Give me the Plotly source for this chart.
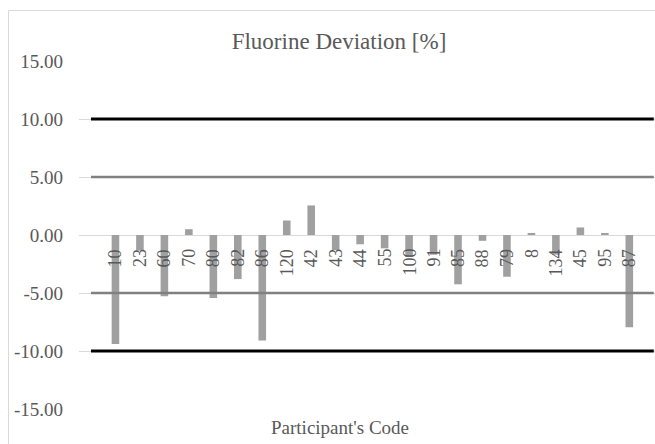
import plotly.graph_objects as go

# Participant codes in reporting order and their fluorine deviation (%)
codes = ["10", "23", "60", "70", "80", "82", "86", "120", "42", "43", "44",
         "55", "100", "91", "85", "88", "79", "8", "134", "45", "95", "87"]
deviation = [-9.4, -1.35, -5.28, 0.5, -5.43, -3.8, -9.1, 1.25, 2.55, -1.3, -0.8,
             -1.15, -1.9, -1.7, -4.25, -0.5, -3.6, 0.15, -1.7, 0.65, 0.1, -7.95]

# Acceptance limits: warning (+/-5 %) and action (+/-10 %)
warning_limits = [5.0, -5.0]
action_limits = [10.0, -10.0]

# Y axis ticks
y_ticks = [-15, -10, -5, 0, 5, 10, 15]
y_tick_labels = ["-15.00", "-10.00", "-5.00", "0.00", "5.00", "10.00", "15.00"]

W, H = 655, 444
M_L, M_R, M_T, M_B = 79, 0, 61, 35
TXT = "#595959"
SERIF = "Times New Roman"

xs = list(range(len(codes)))
fig = go.Figure()

fig.add_trace(go.Bar(
    x=xs, y=deviation, width=0.31,
    marker=dict(color="#a0a0a0", line=dict(width=0)),
    showlegend=False, hoverinfo="x+y",
))

line_x = [-1, len(codes)]
for v in warning_limits:
    fig.add_trace(go.Scatter(x=line_x, y=[v, v], mode="lines",
                             line=dict(color="#808080", width=2.5),
                             showlegend=False, hoverinfo="skip"))
for v in action_limits:
    fig.add_trace(go.Scatter(x=line_x, y=[v, v], mode="lines",
                             line=dict(color="#000000", width=3),
                             showlegend=False, hoverinfo="skip"))

# Category labels sit just under the zero line, rotated
annotations = []
for i, c in enumerate(codes):
    annotations.append(dict(
        x=i, y=0, xref="x", yref="y", text=c, showarrow=False,
        textangle=-90, xanchor="center", yanchor="top", yshift=-12,
        font=dict(family=SERIF, size=18, color=TXT),
    ))

# Axis title
annotations.append(dict(
    x=(340 - M_L) / (W - M_L - M_R), y=(H - M_B - 427) / (H - M_T - M_B),
    xref="paper", yref="paper", text="Participant's Code", showarrow=False,
    xanchor="center", yanchor="middle",
    font=dict(family=SERIF, size=19, color=TXT),
))

pw = W - M_L - M_R
ph = H - M_T - M_B
fig.update_layout(
    width=W, height=H,
    margin=dict(l=M_L, r=M_R, t=M_T, b=M_B, pad=0),
    paper_bgcolor="white", plot_bgcolor="white",
    title=dict(text="Fluorine Deviation [%]", x=339 / W, xref="container",
               xanchor="center", y=1 - 41 / H, yref="container", yanchor="middle",
               font=dict(family=SERIF, size=23, color=TXT)),
    xaxis=dict(range=[-1.49, 22.05], showticklabels=False, showgrid=False,
               zeroline=False, showline=False, ticks=""),
    yaxis=dict(range=[-15, 15], tickvals=y_ticks, ticktext=y_tick_labels,
               showgrid=True, gridcolor="#d9d9d9", gridwidth=1,
               zeroline=True, zerolinecolor="#d9d9d9", zerolinewidth=1,
               showline=False, ticks="", ticklabelstandoff=15,
               tickfont=dict(family=SERIF, size=19, color=TXT)),
    annotations=annotations,
    shapes=[dict(type="rect", xref="paper", yref="paper",
                 x0=(8.5 - M_L) / pw, x1=1.2,
                 y0=-0.3, y1=(H - M_B - 10.5) / ph,
                 line=dict(color="#d9d9d9", width=1), layer="below")],
    showlegend=False,
)

fig.write_html("out.html")
